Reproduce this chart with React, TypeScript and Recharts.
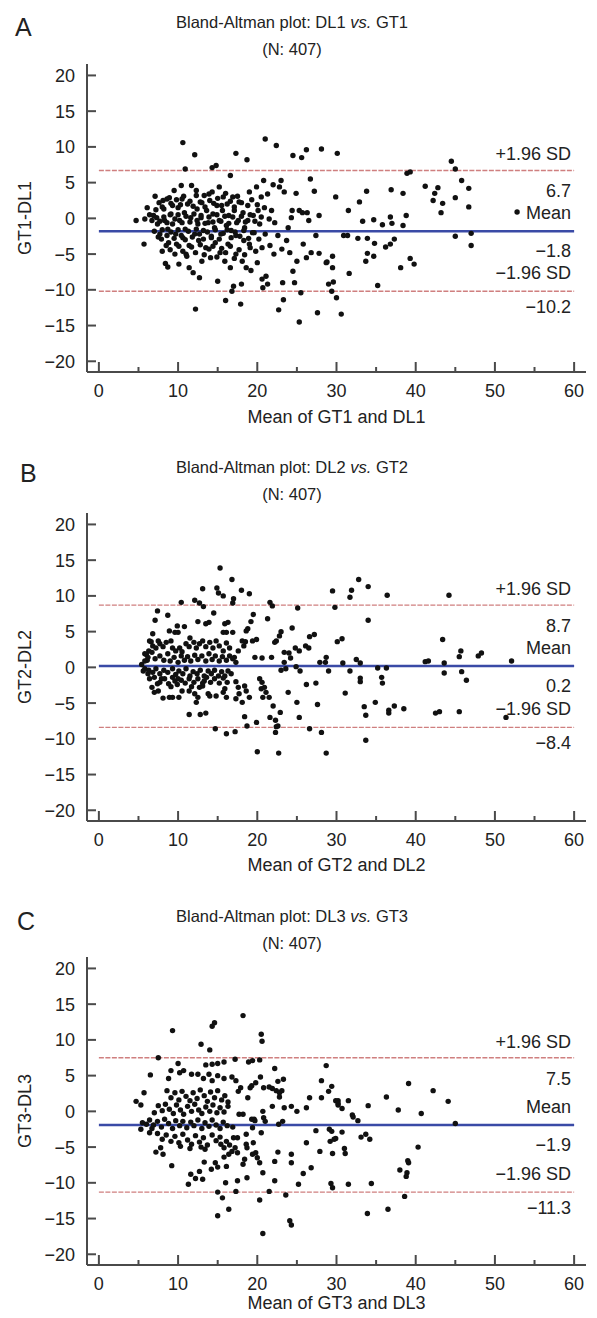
import React from "react";
import { ReferenceLine, Scatter, ScatterChart, XAxis, YAxis } from "recharts";

// axis ticks shared by the three panels
const X_TICKS = [0, 5, 10, 15, 20, 25, 30, 35, 40, 45, 50, 55, 60];
const Y_TICKS = [-20, -15, -10, -5, 0, 5, 10, 15, 20];

const PANEL_LETTERS = ["A", "B", "C"];
const DL_NAMES = ["DL1", "DL2", "DL3"];
const GT_NAMES = ["GT1", "GT2", "GT3"];
const N_CASES = [407, 407, 407];
const MEAN_DIFF = [-1.8, 0.2, -1.9];
const UPPER_LOA = [6.7, 8.7, 7.5];
const LOWER_LOA = [-10.2, -8.4, -11.3];

// [mean of GT and DL, GT - DL]
const POINTS_A: [number, number][] = [
  [10.6, 10.6], [12.1, 8.9], [21.0, 11.1], [22.4, 10.2], [17.3, 9.1], [18.7, 8.2], [24.5, 8.8], [25.6, 8.5],
  [26.2, 9.6], [28.1, 9.7], [30.1, 9.1], [10.9, 6.9], [14.3, 7.1], [14.8, 7.4], [16.6, 6.0],
  [4.7, -0.3], [5.7, -3.6], [5.8, -0.1], [6.1, 1.5], [6.4, 0.5], [6.7, -0.3], [7.1, 3.1], [7.2, 1.2],
  [7.3, 0.1], [7.4, -0.8], [7.7, -2.2], [7.9, -2.9], [8.1, 2.5], [8.2, 1.3], [8.3, -0.3], [8.4, -6.3],
  [8.7, -6.8], [8.6, 2.7], [8.7, -1.5], [8.8, -3.4], [9.0, 0.5], [9.1, 2.1], [9.3, -0.8], [9.5, 3.9],
  [9.7, -2.2], [9.8, -3.6], [10.0, 1.5], [10.1, -6.4], [10.2, -0.3], [10.4, 4.6], [10.5, 2.7], [10.6, -2.7],
  [10.8, 0.8], [10.9, -1.5], [11.0, -5.0], [11.2, 2.0], [11.4, -3.8], [11.4, -6.9], [11.6, 0.1], [11.7, 4.6],
  [11.9, -7.6], [12.1, -2.2], [12.2, -12.7], [12.3, 3.9], [12.4, 1.3], [12.5, -0.8], [12.6, -3.1], [12.7, -8.3],
  [12.8, 2.3], [12.9, 0.1], [13.0, -6.0], [13.2, -1.7], [13.3, 3.2], [13.5, -4.1], [13.6, 1.1], [13.8, -0.6],
  [14.0, 2.5], [14.1, -5.5], [14.2, -2.7], [14.3, 3.7], [14.4, 0.6], [14.6, -1.3], [14.7, -3.4], [14.9, 1.8],
  [15.0, -8.8], [15.2, 4.4], [15.2, -0.3], [15.3, -4.8], [15.4, -2.2], [15.6, 1.1], [15.7, 3.0], [15.9, -6.0],
  [16.0, -11.5], [16.1, -1.0], [16.2, 2.0], [16.3, -3.6], [16.4, 0.4], [16.6, -6.9], [16.7, -1.7], [16.8, -10.2],
  [16.9, 3.0], [17.0, -9.5], [17.1, 1.1], [17.3, -5.0], [17.3, -2.4], [17.6, -0.3], [17.7, 2.3], [17.9, -12.0],
  [18.0, -9.2], [18.1, -6.0], [18.2, 0.8], [18.3, -3.1], [18.4, -1.3], [18.6, -6.9], [18.8, -0.3], [19.0, 3.7],
  [19.1, -4.1], [19.2, -7.3], [19.4, -2.0], [19.5, 0.4], [19.9, 4.4], [20.0, -6.2], [20.1, 1.1], [20.2, -2.9],
  [20.3, -0.8], [20.5, 3.0], [20.6, -8.5], [20.7, -9.7], [20.8, 5.3], [20.9, 1.5], [21.0, -2.2], [21.1, -8.1],
  [21.3, -9.2], [21.3, 3.4], [21.5, -0.1], [21.6, -3.8], [21.8, 1.1], [22.0, 4.7], [22.1, -5.0], [22.2, -0.6],
  [22.6, -2.4], [22.7, -12.8], [22.8, 4.4], [23.0, 5.3], [23.1, -4.3], [23.2, -9.0], [23.3, -11.4], [23.4, 3.7],
  [23.7, -3.1], [23.9, -1.3], [24.1, -4.8], [24.3, 0.1], [24.4, 1.1], [24.5, -7.4], [24.7, -9.0], [24.9, 3.5],
  [25.0, -6.0], [25.3, 1.1], [25.3, -14.5], [25.5, -10.4], [25.7, 0.8], [25.8, -3.6], [26.2, -5.5], [26.3, 0.8],
  [26.5, -0.3], [26.7, 5.5], [26.8, -4.8], [27.2, 3.8], [27.4, -2.4], [27.6, -13.2], [27.8, 0.4], [27.8, -4.9],
  [28.7, -6.2], [29.0, -9.2], [29.5, -6.9], [29.6, -8.9], [29.9, 3.0], [29.5, -5.3], [30.0, -11.1], [30.6, -13.4],
  [30.9, -2.4], [31.4, -2.4], [31.5, 1.1], [31.6, -7.7], [32.7, -2.8], [32.9, 2.3], [33.3, -0.4], [33.7, -6.0],
  [33.8, 3.8], [33.9, -4.9], [34.7, -0.2], [34.8, -3.5], [35.2, -9.4],
  [35.8, -0.9], [36.8, 0.2], [37.0, -0.7], [36.9, 4.0], [38.4, 3.5], [38.4, -1.0], [38.8, 0.4], [38.9, 6.3],
  [39.3, 6.5], [33.9, -2.8], [36.8, -3.6], [36.2, -4.0], [37.3, -2.9], [34.7, -5.3], [38.1, -6.9], [39.3, -5.6],
  [39.8, -6.4], [28.8, -6.1], [29.4, -10.2], [41.2, 4.5], [42.4, 3.5], [42.8, 4.3], [42.2, 2.5], [43.4, 2.1],
  [43.2, 0.8], [44.5, 8.0], [45.0, 6.9], [45.8, 5.3], [46.7, 4.2], [45.0, 2.9], [46.7, 1.6], [45.0, -2.5],
  [47.0, -2.1], [47.0, -3.8], [52.8, 0.9],
  [7.6, 2.2], [8.0, 1.6], [8.9, 2.9], [9.3, 1.8], [9.8, 2.6], [10.3, 1.9], [10.7, 3.1], [11.5, 2.4],
  [11.9, 1.7], [12.3, 3.2], [13.0, 2.2], [13.4, 1.6], [13.9, 3.4], [14.5, 2.1], [15.0, 2.8], [15.5, 1.8],
  [16.0, 3.5], [16.6, 2.4], [17.1, 1.6], [17.5, 3.1], [18.0, 2.2], [18.8, 1.8], [19.3, 2.6], [20.0, 1.9],
  [6.9, 0.4], [7.7, -0.4], [8.2, 0.2], [8.6, -0.6], [9.1, 0.6], [9.6, -0.1], [10.0, 0.5], [10.5, -0.6],
  [11.0, 0.3], [11.5, -0.5], [12.0, 0.6], [12.4, -0.3], [12.9, 0.4], [13.4, -0.7], [13.9, 0.2], [14.4, -0.5],
  [14.9, 0.5], [15.4, -0.4], [15.9, 0.3], [16.4, -0.7], [16.9, 0.2], [17.4, -0.6], [18.0, 0.3], [18.5, -0.5],
  [19.1, 0.5], [19.7, -0.4], [20.5, 0.2],
  [7.0, -1.8], [7.5, -2.6], [8.0, -1.6], [8.6, -2.4], [9.1, -1.9], [9.5, -2.8], [10.0, -1.6], [10.4, -2.4],
  [10.9, -3.0], [11.3, -1.8], [11.8, -2.6], [12.3, -1.5], [12.7, -2.2], [13.2, -2.9], [13.7, -1.9], [14.2, -2.5],
  [14.7, -1.6], [15.2, -2.9], [15.7, -2.1], [16.2, -1.6], [16.7, -2.7], [17.2, -1.9], [17.8, -2.5], [18.3, -1.7],
  [18.9, -2.8], [19.6, -2.0],
  [8.0, -4.6], [8.5, -3.8], [9.0, -4.4], [9.6, -5.0], [10.1, -3.9], [10.6, -4.6], [11.1, -5.3], [11.7, -4.0],
  [12.2, -4.8], [12.8, -3.7], [13.3, -5.1], [13.9, -4.3], [14.4, -3.9], [14.9, -5.4], [15.5, -4.2], [16.0, -4.8],
  [16.6, -3.9], [17.1, -5.6], [17.7, -4.4], [18.4, -5.1], [19.0, -3.6], [19.8, -4.6], [20.6, -4.1],
];

const POINTS_B: [number, number][] = [
  [15.3, 13.9], [16.8, 12.3], [13.1, 11.0], [14.9, 11.1], [15.1, 10.4], [15.7, 10.0], [18.0, 10.8], [19.0, 10.3],
  [17.0, 9.6], [16.9, 9.0], [10.4, 9.1], [12.1, 9.4], [12.7, 9.0], [13.2, 8.5], [21.6, 9.1], [21.9, 8.6],
  [7.4, 7.9], [7.1, 6.6], [8.7, 7.3], [14.5, 7.6], [19.5, 7.4], [21.3, 6.8], [25.1, 8.3], [29.5, 10.7],
  [29.8, 8.4], [30.1, 3.6], [24.4, 5.5], [23.0, 5.0], [22.8, 4.4], [22.4, 3.7], [22.2, 3.5], [26.6, 4.3],
  [27.2, 4.6], [24.8, 2.7], [25.3, 2.3], [26.1, 3.0], [26.5, 2.7], [23.4, 2.1], [24.0, 2.0], [23.4, 0.7],
  [24.2, 1.3], [23.0, -0.4], [23.6, -0.2], [24.9, 0.1], [25.4, -0.5], [21.8, 1.4], [20.6, 1.3], [19.7, 1.4],
  [27.9, 0.7], [28.7, 1.4], [28.6, 0.7], [29.0, -0.5], [18.8, 5.4], [18.6, 5.1], [19.2, 6.4], [19.4, 3.7],
  [19.9, 3.9], [18.1, 3.7], [18.3, 3.0], [18.5, 3.6], [17.6, 2.3], [17.3, 0.7], [17.1, 1.4], [16.3, 6.3],
  [15.9, 6.1], [16.9, 4.9], [16.1, 4.9], [15.7, 4.9], [13.9, 6.3], [13.5, 6.1], [12.5, 6.4], [11.5, 4.1],
  [10.8, 5.7], [9.9, 5.8], [8.9, 5.1], [9.6, 4.9], [10.0, 4.9], [6.8, 4.7], [6.6, 3.6], [7.5, 3.7],
  [6.3, 2.3], [6.0, 1.8], [6.1, 1.0], [5.4, 0.4], [5.6, -0.5], [6.2, -0.9], [5.8, 0.9], [6.7, -2.8],
  [7.0, -3.5], [7.4, -2.3], [7.9, -1.6], [8.1, -4.3], [7.5, -3.3], [8.9, -4.2], [9.3, -4.2], [10.1, -4.2],
  [10.5, -3.3], [9.1, -2.7], [9.6, -1.9], [10.0, -1.6], [11.4, -6.6], [12.8, -6.6], [13.5, -6.4], [11.4, -3.3],
  [11.7, -2.7], [12.1, -3.7], [12.3, -4.9], [12.5, -4.2], [13.8, -3.7], [14.0, -4.0], [14.8, -4.0], [16.1, -4.2],
  [15.9, -3.0], [15.7, -3.5], [12.7, -2.8], [13.1, -2.6], [13.3, -1.9], [17.3, -2.0], [17.6, -2.8], [17.3, -4.4],
  [17.7, -3.7], [18.1, -4.9], [18.4, -2.6], [18.6, -3.3], [19.0, -4.2], [14.7, -8.6], [16.1, -9.3], [17.2, -9.0],
  [18.4, -6.9], [18.7, -8.2], [19.9, -7.7], [20.3, -1.6], [20.6, -2.1], [20.9, -2.8], [20.5, -3.0], [20.7, -4.2],
  [21.1, -3.5], [21.5, -4.2], [21.6, -7.0], [22.0, -5.4], [22.3, -7.4], [22.4, -8.3], [22.6, -8.2], [22.3, -9.1],
  [22.9, -6.3], [20.0, -11.8], [22.7, -12.0], [23.9, -3.5], [25.0, -4.9], [25.3, -7.0], [26.2, -2.4], [27.4, -2.2],
  [27.6, -5.2], [26.6, -8.6], [28.1, -9.1], [28.7, -12.0],
  [31.9, 10.8], [31.7, 9.8], [32.8, 12.3], [34.0, 11.3], [36.4, 10.1], [44.2, 10.1], [34.0, 6.6], [30.7, 4.0],
  [43.4, 3.9], [45.7, 2.3], [45.5, 1.5], [47.9, 1.6], [48.3, 2.0], [52.1, 0.9], [30.8, 0.6], [32.5, 1.1],
  [33.0, 0.6], [31.7, -0.5], [35.2, -0.1], [36.3, -0.1], [41.2, 0.8], [41.6, 0.9], [43.6, 0.6], [43.6, -0.8],
  [45.8, -0.6], [46.4, -1.8], [33.0, -1.5], [33.0, -2.0], [35.7, -1.4], [35.8, -2.2], [31.1, -3.6], [33.5, -5.5],
  [33.7, -6.7], [34.9, -4.9], [36.6, -6.0], [36.6, -6.4], [37.3, -5.4], [38.5, -5.8], [42.5, -6.4], [43.0, -6.2],
  [45.5, -6.2], [51.4, -7.0], [33.7, -10.2],
  [6.4, 3.7], [6.8, 3.0], [7.2, 2.7], [7.7, 3.3], [8.1, 2.9], [8.5, 3.5], [9.1, 3.7], [9.3, 2.7],
  [9.7, 2.3], [10.2, 2.7], [10.5, 2.2], [11.0, 3.3], [11.4, 2.9], [12.0, 3.5], [12.3, 2.7], [12.7, 3.3],
  [13.1, 3.7], [13.5, 2.9], [14.0, 3.5], [14.4, 2.7], [14.8, 3.7], [15.2, 3.0], [15.7, 2.3], [16.1, 3.4],
  [16.5, 2.7],
  [5.8, 1.9], [6.2, 1.4], [6.7, 2.1], [7.1, 1.2], [7.7, 1.6], [8.2, 1.0], [8.7, 1.9], [9.0, 0.9],
  [9.5, 1.4], [10.0, 0.7], [10.4, 1.6], [10.8, 1.0], [11.2, 1.5], [11.6, 0.9], [12.1, 1.7], [12.5, 1.1],
  [13.0, 1.6], [13.5, 0.9], [13.9, 1.9], [14.3, 1.1], [14.7, 1.6], [15.2, 0.9], [15.6, 1.5], [16.1, 1.0],
  [16.5, 1.6], [16.9, 1.2],
  [5.8, -0.2], [6.3, -0.4], [6.8, -0.7], [7.2, -0.2], [7.7, -0.9], [8.2, -0.4], [8.7, -0.7], [9.3, -0.2],
  [9.7, -1.0], [10.1, -0.5], [10.6, -0.9], [11.0, -0.2], [11.5, -1.2], [11.9, -0.6], [12.4, -0.9], [12.8, -0.4],
  [13.3, -1.2], [13.8, -0.5], [14.2, -0.9], [14.6, -0.4], [15.1, -1.2], [15.5, -0.6], [15.9, -1.2], [16.3, -0.5],
  [16.7, -0.9],
  [6.4, -1.6], [7.0, -1.4], [7.7, -2.1], [8.3, -1.6], [8.8, -2.3], [9.3, -1.4], [9.9, -2.4], [10.4, -1.8],
  [10.9, -2.2], [11.4, -1.6], [12.0, -2.1], [12.5, -1.6], [13.1, -2.2], [13.6, -1.4], [14.1, -2.1], [14.6, -1.6],
  [15.2, -2.2], [15.7, -1.5], [16.2, -2.1],
];

const POINTS_C: [number, number][] = [
  [18.2, 13.4], [14.6, 12.4], [14.3, 11.9], [9.3, 11.3], [20.5, 10.8], [20.6, 9.8], [12.9, 9.4], [14.0, 8.6],
  [7.5, 7.5], [17.2, 7.3], [28.7, 6.4], [10.0, 6.7], [13.5, 6.5], [14.3, 6.6], [15.0, 6.7], [15.8, 6.9],
  [18.9, 6.9], [19.4, 7.1], [20.3, 7.2], [9.1, 5.7], [8.8, 4.6], [10.2, 5.4], [10.7, 5.7], [6.5, 5.1],
  [11.7, 5.2], [12.5, 5.2], [13.2, 4.6], [13.9, 5.2], [14.3, 4.3], [15.0, 5.0], [15.8, 4.6], [16.8, 4.8],
  [17.3, 4.3], [22.2, 6.0], [20.4, 4.8], [19.8, 4.0], [19.1, 3.3], [19.3, 3.6], [18.8, 1.9], [17.6, 2.8],
  [17.9, 3.3], [20.8, 3.3], [21.5, 3.4], [21.9, 3.2], [22.4, 2.9], [22.8, 2.6], [23.1, 2.9], [22.6, 4.2],
  [23.3, 4.5], [22.8, 2.0], [23.4, 0.5], [24.3, 0.7], [25.0, 0.0], [21.9, 0.7], [20.7, 0.0], [20.8, -0.9],
  [21.0, -1.4], [26.2, 0.5], [26.6, 1.9], [28.1, 4.3], [28.1, 1.9], [29.0, 2.8], [29.9, 1.5], [30.2, 0.9],
  [23.2, -1.4], [22.7, -1.8], [27.4, -2.7], [29.2, -4.2], [29.9, -3.8], [29.4, -2.8], [26.2, -4.4], [27.9, -5.6],
  [29.5, -5.9], [24.3, -6.0], [24.3, -7.2], [22.2, -7.0], [22.6, -5.7], [26.8, -7.9], [25.8, -8.7], [25.2, -10.2],
  [22.2, -9.7], [29.3, -10.1], [29.5, -10.7], [21.5, -11.2], [23.6, -11.7], [20.3, -12.4], [24.1, -15.3], [24.3, -15.9],
  [15.0, -11.3], [15.6, -12.1], [16.4, -13.7], [15.0, -14.6], [11.3, -10.2], [11.6, -8.8], [12.2, -9.4], [12.7, -8.4],
  [13.1, -9.5], [16.0, -10.0], [17.5, -9.7], [18.7, -9.3], [17.3, -11.2], [14.7, -7.2], [15.0, -7.8], [14.2, -8.1],
  [13.3, -7.1], [15.8, -6.4], [16.1, -7.7], [16.4, -6.0], [16.8, -5.6], [17.2, -5.1], [17.5, -5.8], [18.2, -7.4],
  [18.4, -6.7], [18.7, -5.1], [19.4, -6.0], [19.8, -5.8], [20.0, -6.5], [20.3, -7.2], [20.7, -8.6], [9.2, -7.6],
  [7.2, -5.7], [8.1, -6.0], [7.8, -5.1], [5.3, -2.5], [6.4, -3.0], [6.7, -2.4], [6.0, -1.8], [5.5, -1.6],
  [4.7, 1.4], [5.3, 0.9], [5.7, 2.6], [18.6, -3.2], [17.5, -3.7], [18.6, -4.6], [19.5, -4.4], [19.6, -1.1],
  [19.4, -2.3], [20.5, -3.0], [17.7, -0.4], [18.2, -0.4], [19.3, -1.1], [19.7, -1.3], [16.9, -2.2], [17.0, -3.7],
  [16.1, -4.2], [15.4, -4.6], [15.8, -5.1], [16.5, -4.7], [20.7, -17.1],
  [29.4, 3.5], [30.2, 1.5], [30.2, 1.1], [30.7, 0.4], [31.5, 1.5], [32.0, -0.5], [32.1, -0.8], [32.7, -1.3],
  [34.0, 0.8], [36.3, 2.0], [37.8, 0.2], [39.1, 3.9], [40.7, -0.3], [42.2, 2.9], [44.1, 1.4], [45.0, -1.7],
  [29.1, -2.5], [29.7, -3.9], [30.7, -2.9], [33.1, -3.6], [33.7, -3.2], [34.2, -3.9], [31.0, -5.2], [31.1, -5.9],
  [40.3, -5.0], [39.0, -6.9], [39.1, -7.2], [38.0, -8.2], [38.9, -8.6], [38.8, -9.1], [31.5, -10.2], [34.4, -10.1],
  [38.6, -11.9], [33.9, -14.3], [36.5, -13.7],
  [8.6, 2.9], [9.1, 1.9], [9.6, 2.6], [10.1, 1.6], [10.5, 2.8], [11.0, 2.1], [11.5, 1.5], [11.9, 2.6],
  [12.4, 1.8], [12.8, 3.0], [13.3, 2.2], [13.7, 1.4], [14.1, 2.7], [14.6, 1.9], [15.0, 2.9], [15.5, 1.6],
  [15.9, 2.2], [16.3, 1.3],
  [7.0, -0.2], [7.5, 0.8], [8.0, 0.1], [8.4, 1.0], [8.9, 0.3], [9.4, -0.3], [9.8, 0.9], [10.3, 0.2],
  [10.7, -0.4], [11.2, 0.7], [11.7, 0.0], [12.1, 1.0], [12.6, 0.2], [13.0, -0.3], [13.5, 0.6], [14.0, 0.0],
  [14.4, 0.9], [14.9, -0.2], [15.3, 0.5], [15.8, -0.1], [16.3, 0.7],
  [6.4, -1.2], [6.9, -1.9], [7.4, -1.4], [7.9, -2.2], [8.3, -1.1], [8.8, -1.7], [9.3, -2.4], [9.7, -1.3],
  [10.2, -2.0], [10.6, -1.4], [11.1, -2.3], [11.6, -1.5], [12.0, -2.0], [12.5, -1.2], [13.0, -2.4], [13.4, -1.6],
  [13.9, -2.1], [14.3, -1.2], [14.8, -1.9], [15.3, -2.4], [15.7, -1.5], [16.2, -2.0],
  [7.4, -3.1], [8.0, -3.9], [8.5, -3.3], [9.1, -4.2], [9.6, -3.5], [10.1, -4.4], [10.6, -3.2], [11.2, -4.0],
  [11.7, -4.6], [12.2, -3.4], [12.7, -4.3], [13.2, -3.7], [13.7, -4.7], [14.3, -3.3], [14.8, -4.1], [15.3, -3.6],
  [10.3, -4.9], [11.5, -5.2], [12.9, -5.0], [13.4, -5.3],
];

const POINTS = [POINTS_A, POINTS_B, POINTS_C];

// page layout (pixels)
const W = 597;
const H = 1318;
const PLOT_LEFT = 87;
const PLOT_RIGHT = 586;
const PLOT_H = 308;
const PLOT_TOP = [64, 513, 957];
const TITLE_BASE = [28, 473, 922];
const LETTER_BASE = [36, 482, 930];
const LETTER_X = [15, 20, 17];
const X_TITLE_GAP = [51, 50, 44];
const MARGIN_TOP = 10;
const X_AXIS_H = 60;

const FONT = '"Liberation Sans", Arial, Helvetica, sans-serif';
const INK = "#222";
const AXIS = "#4a4a4a";
const LOA_RED = "#cf7f7f";
const MEAN_BLUE = "#3a4aa6";

const fmt = (v: number) => (v < 0 ? `\u2212${Math.abs(v)}` : `${v}`);
const fmt1 = (v: number) => (v < 0 ? `\u2212${Math.abs(v).toFixed(1)}` : v.toFixed(1));

function XTick(props: any) {
  const { x, y, payload } = props;
  const major = payload.value % 10 === 0;
  return (
    <g>
      <line x1={x} x2={x} y1={y} y2={y - (major ? 10 : 5)} stroke={AXIS} strokeWidth={2} />
      {major && (
        <text x={x} y={y + 25} textAnchor="middle" fontSize={18} fontFamily={FONT} fill={INK}>
          {fmt(payload.value)}
        </text>
      )}
    </g>
  );
}

function YTick(props: any) {
  const { x, y, payload } = props;
  return (
    <g>
      <line x1={x} x2={x + 9} y1={y} y2={y} stroke={AXIS} strokeWidth={2} />
      <text x={x - 12} y={y + 6.5} textAnchor="end" fontSize={18} fontFamily={FONT} fill={INK}>
        {fmt(payload.value)}
      </text>
    </g>
  );
}

// two texts at the right end of a limit line: one above, one below
function sideLabel(above: string, below: string, up: number, down: number) {
  return (props: any) => {
    const vb = props.viewBox || {};
    const right = (vb.x ?? 0) + (vb.width ?? 0) - 3;
    const y = vb.y ?? 0;
    return (
      <g fontSize={18} fontFamily={FONT} fill={INK} textAnchor="end">
        <text x={right} y={y - up}>{above}</text>
        <text x={right} y={y + down}>{below}</text>
      </g>
    );
  };
}

const dot = (p: any) => <circle cx={p.cx} cy={p.cy} r={2.7} fill="#111" />;

function Panel({ i }: { i: number }) {
  const data = POINTS[i].map(([x, y]) => ({ x, y }));
  const up = UPPER_LOA[i];
  const mean = MEAN_DIFF[i];
  const low = LOWER_LOA[i];
  return (
    <div style={{ position: "absolute", left: 0, top: PLOT_TOP[i] - MARGIN_TOP }}>
      <ScatterChart
        width={W}
        height={MARGIN_TOP + PLOT_H + X_AXIS_H}
        margin={{ top: MARGIN_TOP, right: W - PLOT_RIGHT, bottom: 0, left: 0 }}
      >
        <XAxis
          type="number"
          dataKey="x"
          domain={[-1.5, 61.5]}
          allowDataOverflow
          ticks={X_TICKS}
          interval={0}
          tickSize={0}
          tickMargin={0}
          tickLine={false}
          tick={XTick}
          height={X_AXIS_H}
          axisLine={{ stroke: AXIS, strokeWidth: 2 }}
        />
        <YAxis
          type="number"
          dataKey="y"
          domain={[-21.5, 21.6]}
          allowDataOverflow
          ticks={Y_TICKS}
          interval={0}
          tickSize={0}
          tickMargin={0}
          tickLine={false}
          tick={YTick}
          width={PLOT_LEFT}
          axisLine={{ stroke: AXIS, strokeWidth: 2 }}
        />
        <Scatter data={data} shape={dot} isAnimationActive={false} />
        <ReferenceLine
          segment={[{ x: 0, y: up }, { x: 60, y: up }]}
          stroke={LOA_RED}
          strokeWidth={1.3}
          strokeDasharray="5 1.5"
          label={sideLabel("+1.96 SD", fmt1(up), 10, 27)}
        />
        <ReferenceLine
          segment={[{ x: 0, y: mean }, { x: 60, y: mean }]}
          stroke={MEAN_BLUE}
          strokeWidth={2.5}
          label={sideLabel("Mean", fmt1(mean), 12, 26)}
        />
        <ReferenceLine
          segment={[{ x: 0, y: low }, { x: 60, y: low }]}
          stroke={LOA_RED}
          strokeWidth={1.3}
          strokeDasharray="5 1.5"
          label={sideLabel("\u22121.96 SD", fmt1(low), 12, 22)}
        />
      </ScatterChart>
    </div>
  );
}

export default function App() {
  const midX = (PLOT_LEFT + PLOT_RIGHT) / 2;
  return (
    <div style={{ position: "absolute", left: 0, top: 0, width: W, height: H, background: "#fff" }}>
      {[0, 1, 2].map((i) => (
        <Panel key={i} i={i} />
      ))}
      <svg
        width={W}
        height={H}
        style={{ position: "absolute", left: 0, top: 0, pointerEvents: "none" }}
        fontFamily={FONT}
        fill={INK}
      >
        {[0, 1, 2].map((i) => {
          const top = PLOT_TOP[i];
          return (
            <g key={i}>
              <text x={LETTER_X[i]} y={LETTER_BASE[i]} fontSize={25}>
                {PANEL_LETTERS[i]}
              </text>
              <text x={292} y={TITLE_BASE[i]} fontSize={16.5} textAnchor="middle">
                {`Bland-Altman plot: ${DL_NAMES[i]} `}
                <tspan fontStyle="italic">vs.</tspan>
                {` ${GT_NAMES[i]}`}
              </text>
              <text x={292} y={TITLE_BASE[i] + 27} fontSize={16.5} textAnchor="middle">
                {`(N: ${N_CASES[i]})`}
              </text>
              <text x={midX} y={top + PLOT_H + X_TITLE_GAP[i]} fontSize={18} textAnchor="middle">
                {`Mean of ${GT_NAMES[i]} and ${DL_NAMES[i]}`}
              </text>
              <text
                x={31}
                y={top + PLOT_H / 2}
                fontSize={18}
                textAnchor="middle"
                transform={`rotate(-90 31 ${top + PLOT_H / 2})`}
              >
                {`${GT_NAMES[i]}-${DL_NAMES[i]}`}
              </text>
            </g>
          );
        })}
      </svg>
    </div>
  );
}
